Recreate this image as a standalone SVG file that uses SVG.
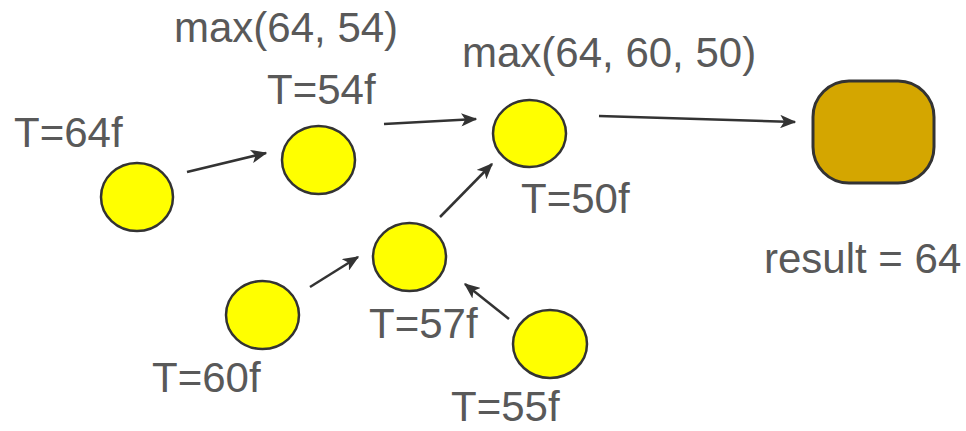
<svg xmlns="http://www.w3.org/2000/svg" width="966" height="431" viewBox="0 0 966 431">
<style>
.n{fill:#FFFF00;stroke:#333333;stroke-width:2.5}
.r{fill:#D4A600;stroke:#333333;stroke-width:3}
.t{font-family:"Liberation Sans",Arial,sans-serif;font-size:42px;fill:#595959}
.c line{stroke:#333333;stroke-width:2.5;marker-end:url(#ah)}
</style>
<defs>
<marker id="ah" viewBox="0 0 12 10" refX="11" refY="5" markerWidth="6.5" markerHeight="5.4" orient="auto" markerUnits="strokeWidth">
<path d="M0,0 L12,5 L0,10 L3,5 z" fill="#333333"/>
</marker>
</defs>
<rect width="966" height="431" fill="#ffffff"/>
<g class="c" id="connectors">
<line x1="187" y1="172" x2="266" y2="153"/>
<line x1="384" y1="124" x2="476" y2="119"/>
<line x1="440" y1="217" x2="492" y2="164"/>
<line x1="310" y1="287" x2="358" y2="257"/>
<line x1="509" y1="319" x2="465" y2="284"/>
<line x1="599" y1="116" x2="795" y2="122"/>
</g>
<g id="n64"><ellipse class="n" cx="137" cy="197" rx="36" ry="34"/><text class="t" x="14" y="147">T=64f</text></g>
<g id="n54"><ellipse class="n" cx="318.5" cy="160" rx="36.5" ry="34"/><text class="t" x="267" y="104">T=54f</text><text class="t" x="174" y="42">max(64, 54)</text></g>
<g id="n50"><ellipse class="n" cx="529.5" cy="133.5" rx="36.5" ry="33.5"/><text class="t" x="521" y="213">T=50f</text><text class="t" x="462" y="67">max(64, 60, 50)</text></g>
<g id="n57"><ellipse class="n" cx="409.5" cy="257" rx="36.5" ry="34"/><text class="t" x="369" y="338">T=57f</text></g>
<g id="n60"><ellipse class="n" cx="262.5" cy="315" rx="36.5" ry="34"/><text class="t" x="152" y="392">T=60f</text></g>
<g id="n55"><ellipse class="n" cx="550" cy="344" rx="37" ry="34"/><text class="t" x="451" y="421">T=55f</text></g>
<g id="result"><rect class="r" x="813" y="81" width="121" height="102" rx="36" ry="36"/><text class="t" x="764" y="273">result = 64</text></g>
</svg>
